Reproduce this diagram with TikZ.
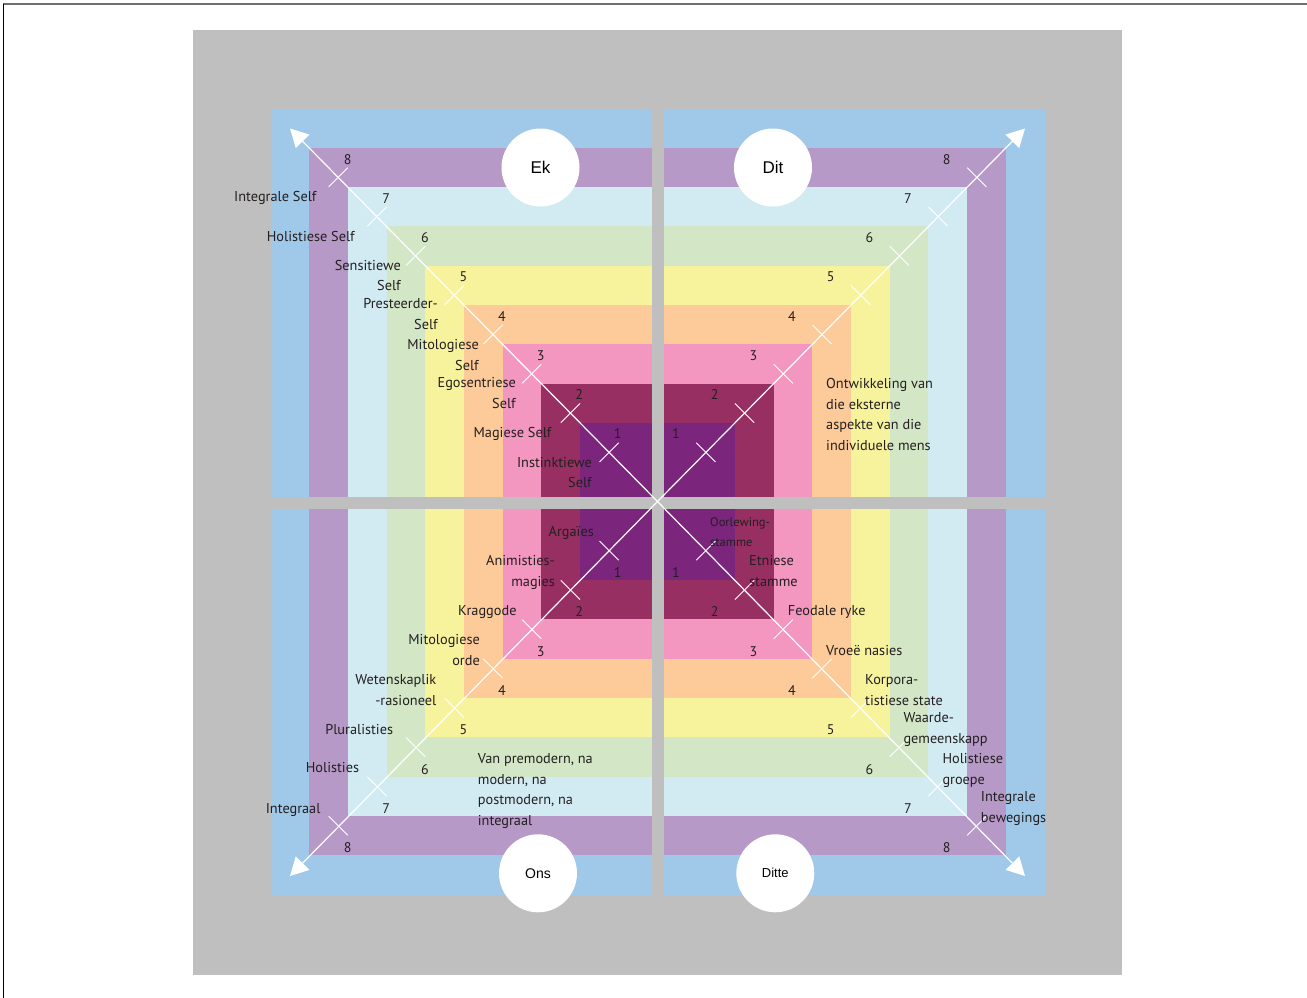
\documentclass[tikz,border=0pt]{standalone}
\usepackage{fontspec}
\setmainfont{PT Sans}
\newfontfamily\arialf{Liberation Sans}
\usetikzlibrary{arrows.meta}
\definecolor{cgray}{RGB}{191,191,191}
\definecolor{cblue}{RGB}{159,200,233}
\definecolor{cviolet}{RGB}{183,153,200}
\definecolor{clblue}{RGB}{210,235,243}
\definecolor{cgreen}{RGB}{211,230,198}
\definecolor{cyellow}{RGB}{247,242,156}
\definecolor{corange}{RGB}{253,203,153}
\definecolor{cpink}{RGB}{243,150,192}
\definecolor{cdred}{RGB}{152,47,99}
\definecolor{cpurple}{RGB}{123,38,124}
\definecolor{ctext}{RGB}{35,31,32}
\definecolor{cframe}{RGB}{110,110,110}
\begin{document}
\begin{tikzpicture}[x=1pt,y=-1pt,
  num/.style={font=\fontsize{14}{16}\selectfont, inner sep=0pt, text=ctext},
  lbl/.style={font=\fontsize{14.3}{20.5}\selectfont, inner sep=0pt, text=ctext},
  lblr/.style={lbl, align=right, anchor=base east},
  lbll/.style={lbl, align=left, anchor=base west},
  smalll/.style={lbll, font=\fontsize{12.5}{20}\selectfont},
  tickline/.style={white, line width=1pt},
  diag/.style={white, line width=1.2pt, -{Triangle[length=18pt,width=19pt]}},
  quad/.style={circle, fill=white, minimum size=78pt, inner sep=0pt, text=black}
]
\useasboundingbox (0,0) rectangle (1307,998);
% page frame
\draw[cframe, line width=1.3pt] (3,4) -- (1307,4);
\draw[black, line width=1pt] (3.3,4) -- (3.3,998);
% grey background
\fill[cgray] (193,30) rectangle (1122,975);
% nested squares
\foreach \u/\col in {10/cblue,9/cviolet,8/clblue,7/cgreen,6/cyellow,5/corange,4/cpink,3/cdred,2/cpurple}
  \fill[\col] ({657.5-38.7*\u},{501.5-39.3*\u}) rectangle ({657.5+38.7*\u},{501.5+39.3*\u});
% grey cross
\fill[cgray] (651.6,100) rectangle (663.8,905);
\fill[cgray] (260,496.7) rectangle (1055,509.3);
% diagonals
\coordinate (c) at (657.5,501.5);
\coordinate (tl) at (290,128.5);
\coordinate (tr) at (1025,128.5);
\coordinate (bl) at (290,876);
\coordinate (br) at (1025,876);
\draw[diag] (c) -- (tl);
\draw[diag] (c) -- (tr);
\draw[diag] (c) -- (bl);
\draw[diag] (c) -- (br);
% ticks and level numbers
\foreach \k in {1,...,8}{
  \pgfmathsetmacro\ux{38.7*(\k+0.25)}
  \pgfmathsetmacro\uy{39.3*(\k+0.25)}
  \draw[tickline] ({657.5-\ux-9.6},{501.5-\uy+9.6}) -- ++(19.2,-19.2);
  \draw[tickline] ({657.5+\ux-9.6},{501.5-\uy-9.6}) -- ++(19.2,19.2);
  \draw[tickline] ({657.5-\ux-9.6},{501.5+\uy-9.6}) -- ++(19.2,19.2);
  \draw[tickline] ({657.5+\ux-9.6},{501.5+\uy+9.6}) -- ++(19.2,-19.2);
  \node[num] (ntl\k) at ({656.3-38.57*\k},{473.24-39.24*\k}) {\k};
  \node[num] (ntr\k) at ({637.3+38.67*\k},{473.24-39.24*\k}) {\k};
  \node[num] (nbl\k) at ({656.3-38.57*\k},{533.4+39.29*\k}) {\k};
  \node[num] (nbr\k) at ({637.3+38.67*\k},{533.4+39.29*\k}) {\k};
}
% top-left labels (anchor = baseline of last line)
\node[lblr] (l8) at (316.7,201) {Integrale Self};
\node[lblr] (l7) at (355,241.7) {Holistiese Self};
\node[lblr] (l6) at (401,290.7) {Sensitiewe\\Self};
\node[lblr] (l5) at (438,329.3) {Presteerder-\\Self};
\node[lblr] (l4) at (479,370) {Mitologiese\\Self};
\node[lblr] (l3) at (516,408.3) {Egosentriese\\Self};
\node[lblr] (l2) at (551.7,437.7) {Magiese Self};
\node[lblr] (l1) at (592,487.7) {Instinktiewe\\Self};
% top-right label
\node[lbll] (ext) at (826,450) {Ontwikkeling van\\die eksterne\\aspekte van die\\individuele mens};
% bottom-left labels
\node[lblr] (b1) at (594,536) {Argaïes};
\node[lblr] (b2) at (555,586) {Animisties-\\magies};
\node[lblr] (b3) at (516.7,615) {Kraggode};
\node[lblr] (b4) at (480,665) {Mitologiese\\orde};
\node[lblr] (b5) at (436.5,705) {Wetenskaplik\\-rasioneel};
\node[lblr] (b6) at (393.3,734) {Pluralisties};
\node[lblr] (b7) at (359.3,772.7) {Holisties};
\node[lblr] (b8) at (320.7,813.3) {Integraal};
\node[lbll] (van) at (477.7,825) {Van premodern, na\\modern, na\\postmodern, na\\integraal};
% bottom-right labels
\node[smalll] (r1) at (710,546.7) {Oorlewing-\\stamme};
\node[lbll] (r2) at (749,586) {Etniese\\stamme};
\node[lbll] (r3) at (787.7,615) {Feodale ryke};
\node[lbll] (r4) at (826,655) {Vroeë nasies};
\node[lbll] (r5) at (865,705) {Korpora-\\tistiese state};
\node[lbll] (r6) at (903.3,743.3) {Waarde-\\gemeenskapp};
\node[lbll] (r7) at (942.3,784) {Holistiese\\groepe};
\node[lbll] (r8) at (980.7,822.3) {Integrale\\bewegings};
% quadrant circles
\node[quad, font=\arialf\fontsize{17}{20}\selectfont] (ek) at (540.5,167.5) {Ek};
\node[quad, font=\arialf\fontsize{17}{20}\selectfont] (dit) at (773,167.5) {Dit};
\node[quad, font=\arialf\fontsize{14}{17}\selectfont] (ons) at (538,873.3) {Ons};
\node[quad, font=\arialf\fontsize{13}{16}\selectfont] (ditte) at (775.3,873.3) {Ditte};
\end{tikzpicture}
\end{document}
